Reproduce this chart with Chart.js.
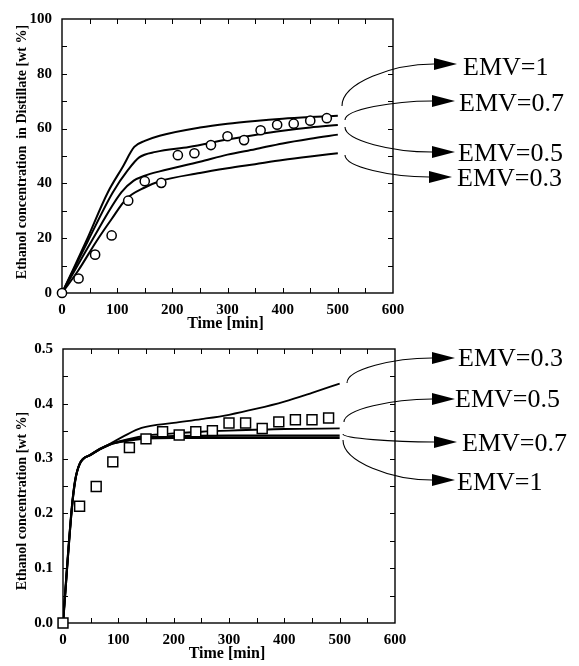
<!DOCTYPE html>
<html>
<head>
<meta charset="utf-8">
<script src="https://cdn.jsdelivr.net/npm/chart.js@4/dist/chart.umd.min.js"></script>
<style>
  html, body { margin: 0; padding: 0; background: #fff; }
  #wrap { position: relative; width: 579px; height: 666px; }
  canvas { position: absolute; left: 0; }
  #top { top: 0; }
  #bot { top: 330px; }
</style>
</head>
<body>
<div id="wrap">
  <canvas id="top" width="579" height="333"></canvas>
  <canvas id="bot" width="579" height="336"></canvas>
</div>
<script>
// sampling times of the measurements [min]
const timeExp = [0, 30, 60, 90, 120, 150, 180, 210, 240, 270, 300, 330, 360, 390, 420, 450, 480];

// upper plot: ethanol in distillate [wt %]
const distExp = [0, 5.3, 14, 21, 33.7, 40.8, 40.2, 50.3, 51, 54, 57.2, 55.8, 59.4, 61.4, 61.8, 62.9, 63.8];
const distEmv1  = [[0,0],[20,8.5],[44,19],[83,36.7],[110,46],[131,53.3],[150,55.5],[177,57.4],[250,60.4],[300,61.8],[350,62.8],[400,63.6],[450,64.2],[500,64.7]];
const distEmv07 = [[0,0],[47,19],[92,36.7],[120,45],[140,49.5],[170,51.5],[230,53.3],[300,56],[350,57.7],[400,59.2],[450,60.4],[500,61.3]];
const distEmv05 = [[0,0],[53.5,18.9],[107.5,36.7],[130,41],[150,42.8],[177,44.4],[250,47.9],[300,50.5],[350,52.5],[400,54.6],[450,56.3],[500,57.8]];
const distEmv03 = [[0,0],[29.4,8.2],[62.5,18.9],[90,27],[116.5,34.3],[150,38.5],[177,40.8],[250,43.8],[300,45.5],[350,47],[400,48.5],[450,49.8],[500,51]];

// lower plot: ethanol concentration [wt %]
const stillExp = [0, 0.213, 0.249, 0.294, 0.320, 0.336, 0.349, 0.343, 0.349, 0.351, 0.365, 0.365, 0.355, 0.367, 0.371, 0.371, 0.374];
const stillEmv03 = [[0,0],[16,0.21],[22,0.26],[30,0.29],[50,0.307],[85,0.327],[110,0.341],[142,0.356],[200,0.365],[250,0.372],[300,0.380],[350,0.391],[400,0.404],[450,0.420],[500,0.437]];
const stillEmv05 = [[0,0],[16,0.21],[22,0.26],[30,0.29],[50,0.307],[85,0.326],[120,0.336],[150,0.342],[200,0.346],[250,0.349],[300,0.351],[400,0.354],[500,0.355]];
const stillEmv07 = [[0,0],[16,0.21],[22,0.26],[30,0.29],[50,0.307],[85,0.326],[120,0.334],[150,0.339],[200,0.341],[300,0.342],[500,0.342]];
const stillEmv1  = [[0,0],[16,0.21],[22,0.26],[30,0.29],[50,0.307],[85,0.326],[120,0.333],[150,0.337],[200,0.338],[300,0.338],[500,0.338]];

const topLabels = ['EMV=1', 'EMV=0.7', 'EMV=0.5', 'EMV=0.3'];
const botLabels = ['EMV=0.3', 'EMV=0.5', 'EMV=0.7', 'EMV=1'];

const SERIF = '"Liberation Serif", "Times New Roman", serif';

const toXY = pts => pts.map(p => ({ x: p[0], y: p[1] }));

function curve(pts, width) {
  return {
    data: toXY(pts),
    borderColor: '#000',
    borderWidth: width,
    pointRadius: 0,
    cubicInterpolationMode: 'monotone',
    fill: false,
    order: 2
  };
}

function markers(ys, style, radius) {
  return {
    data: timeExp.map((t, i) => ({ x: t, y: ys[i] })),
    showLine: false,
    pointStyle: style,
    pointRadius: radius,
    pointBorderWidth: 1.5,
    pointBorderColor: '#000',
    pointBackgroundColor: '#fff',
    clip: false,
    order: 1
  };
}

// box, inward tick marks and axis titles
const framePlugin = {
  id: 'frame',
  beforeDatasetsDraw(chart, args, opts) {
    const { ctx, chartArea: a } = chart;
    const x = chart.scales.x, y = chart.scales.y;
    ctx.save();
    ctx.strokeStyle = '#000';
    ctx.lineWidth = 1.4;
    ctx.strokeRect(a.left, a.top, a.width, a.height);
    ctx.lineWidth = 1;
    ctx.beginPath();
    const nx = Math.round((x.max - x.min) / opts.xMinor);
    for (let i = 1; i < nx; i++) {
      const px = Math.round(x.getPixelForValue(x.min + i * opts.xMinor)) + 0.5;
      ctx.moveTo(px, a.bottom); ctx.lineTo(px, a.bottom - 5);
      ctx.moveTo(px, a.top); ctx.lineTo(px, a.top + 5);
    }
    const ny = Math.round((y.max - y.min) / opts.yMinor);
    for (let i = 1; i < ny; i++) {
      const py = Math.round(y.getPixelForValue(y.min + i * opts.yMinor)) + 0.5;
      ctx.moveTo(a.left, py); ctx.lineTo(a.left + 5, py);
      ctx.moveTo(a.right, py); ctx.lineTo(a.right - 5, py);
    }
    ctx.stroke();

    ctx.fillStyle = '#000';
    ctx.font = 'bold 14px ' + SERIF;
    ctx.textAlign = 'center';
    ctx.textBaseline = 'middle';
    ctx.save();
    ctx.translate(22, opts.yTitleY);
    ctx.rotate(-Math.PI / 2);
    ctx.fillText(opts.yTitle, 0, 0);
    ctx.restore();
    ctx.font = 'bold 16px ' + SERIF;
    ctx.fillText('Time [min]', (a.left + a.right) / 2 - 2, a.bottom + 31);
    ctx.restore();
  }
};

// curved arrows pointing to the EMV labels
const notesPlugin = {
  id: 'notes',
  afterDraw(chart, args, opts) {
    const ctx = chart.ctx;
    ctx.save();
    ctx.strokeStyle = '#000';
    ctx.fillStyle = '#000';
    ctx.lineWidth = 1.1;
    ctx.font = '26px ' + SERIF;
    ctx.textAlign = 'left';
    ctx.textBaseline = 'alphabetic';
    opts.items.forEach((n, i) => {
      const base = n.ex - 23;
      const k = 0.55;
      ctx.beginPath();
      ctx.moveTo(n.sx, n.sy);
      ctx.bezierCurveTo(n.sx, n.sy + k * (n.ey - n.sy), n.sx + k * (base - n.sx), n.ey, base, n.ey);
      ctx.stroke();
      ctx.beginPath();
      ctx.moveTo(base, n.ey - 6);
      ctx.lineTo(n.ex, n.ey);
      ctx.lineTo(base, n.ey + 6);
      ctx.closePath();
      ctx.fill();
      ctx.fillText(opts.labels[i], n.tx, n.ty + 9);
    });
    ctx.restore();
  }
};

function baseOptions(cfg) {
  return {
    responsive: false,
    animation: false,
    layout: { padding: { left: 0, top: 12, right: cfg.right, bottom: 0 } },
    plugins: {
      legend: { display: false },
      tooltip: { enabled: false },
      frame: cfg.frame,
      notes: cfg.notes
    },
    scales: {
      x: {
        type: 'linear',
        min: 0, max: 600,
        grid: { display: false, drawTicks: false },
        border: { display: false },
        ticks: { stepSize: 100, padding: 8, color: '#000', font: { family: SERIF, size: 15, weight: 'bold' } },
        afterFit: s => { s.height = cfg.xHeight; }
      },
      y: {
        type: 'linear',
        min: cfg.yMin, max: cfg.yMax,
        grid: { display: false, drawTicks: false },
        border: { display: false },
        ticks: {
          stepSize: cfg.yStep, padding: 10, color: '#000',
          font: { family: SERIF, size: 15, weight: 'bold' },
          callback: cfg.yFormat
        },
        afterFit: s => { s.width = cfg.yWidth; }
      }
    }
  };
}

new Chart(document.getElementById('top').getContext('2d'), {
  type: 'line',
  data: {
    datasets: [
      markers(distExp, 'circle', 4.6),
      curve(distEmv1, 2),
      curve(distEmv07, 2),
      curve(distEmv05, 2),
      curve(distEmv03, 2)
    ]
  },
  options: baseOptions({
    right: 186, xHeight: 40, yWidth: 62,
    yMin: 0, yMax: 100, yStep: 20,
    yFormat: v => v,
    frame: { xMinor: 50, yMinor: 10, yTitle: 'Ethanol concentration  in Distillate [wt %]', yTitleY: 152 },
    notes: {
      labels: topLabels,
      items: [
        { sx: 342, sy: 106, ex: 457, ey: 64, tx: 463, ty: 66 },
        { sx: 345, sy: 120, ex: 455, ey: 101, tx: 459, ty: 102 },
        { sx: 345, sy: 127, ex: 455, ey: 152, tx: 458, ty: 152 },
        { sx: 345, sy: 155, ex: 452, ey: 177, tx: 457, ty: 177 }
      ]
    }
  }),
  plugins: [framePlugin, notesPlugin]
});

new Chart(document.getElementById('bot').getContext('2d'), {
  type: 'line',
  data: {
    datasets: [
      markers(stillExp, 'rect', 7),
      curve(stillEmv03, 1.8),
      curve(stillEmv05, 1.8),
      curve(stillEmv07, 2.2),
      curve(stillEmv1, 2.2)
    ]
  },
  options: baseOptions({
    right: 184, xHeight: 43, yWidth: 63,
    yMin: 0, yMax: 0.5, yStep: 0.1,
    yFormat: v => v.toFixed(1),
    frame: { xMinor: 50, yMinor: 0.05, yTitle: 'Ethanol concentration [wt %]', yTitleY: 171 },
    notes: {
      labels: botLabels,
      items: [
        { sx: 347, sy: 53, ex: 455, ey: 28, tx: 458, ty: 27 },
        { sx: 344, sy: 92, ex: 455, ey: 69, tx: 455, ty: 68 },
        { sx: 343, sy: 104, ex: 457, ey: 112, tx: 462, ty: 112 },
        { sx: 343, sy: 110, ex: 455, ey: 150, tx: 457, ty: 151 }
      ]
    }
  }),
  plugins: [framePlugin, notesPlugin]
});
</script>
</body>
</html>
